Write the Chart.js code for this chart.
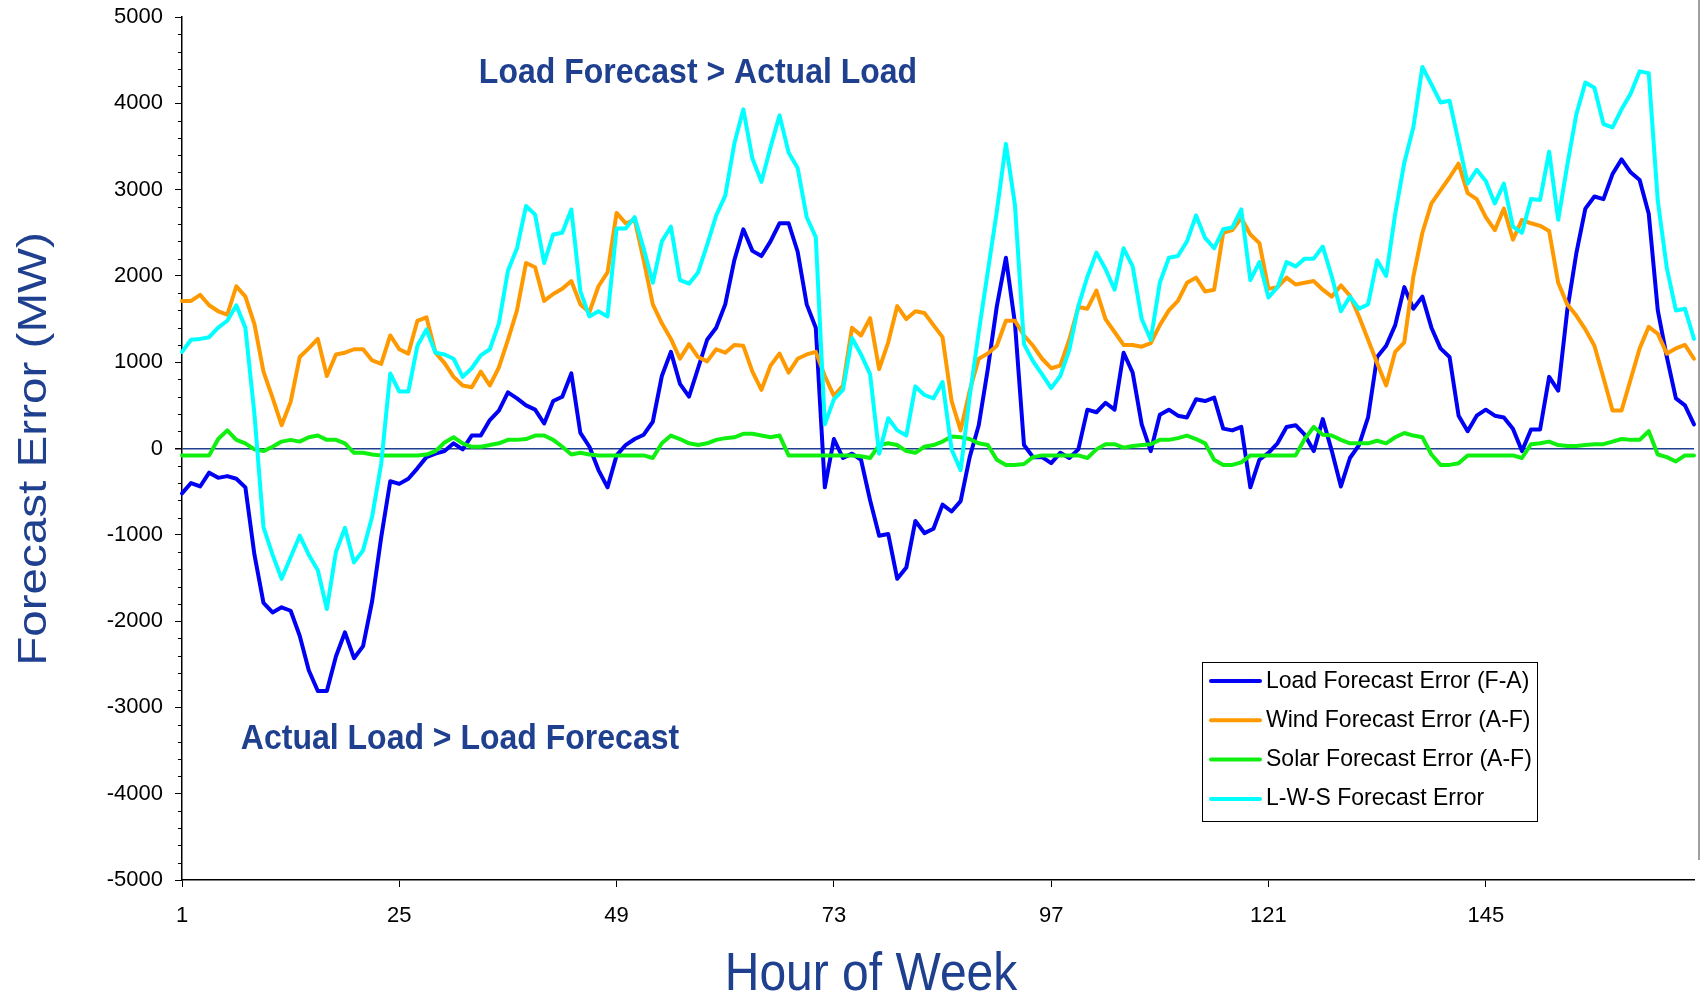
<!DOCTYPE html>
<html>
<head>
<meta charset="utf-8">
<title>Forecast Error by Hour of Week</title>
<script src="https://cdn.jsdelivr.net/npm/chart.js@4.4.1/dist/chart.umd.min.js"></script>
<style>
  html, body { margin: 0; padding: 0; background: #fff; }
  #wrap { width: 1704px; height: 1000px; }
</style>
</head>
<body>
<div id="wrap"><canvas id="chart" width="1704" height="1000"></canvas></div>
<script>
// hours of the week (categories)
var hours = [];
for (var h = 1; h <= 168; h++) hours.push(h);
var hourTicks = [1, 25, 49, 73, 97, 121, 145];
var valueTicks = [-5000, -4000, -3000, -2000, -1000, 0, 1000, 2000, 3000, 4000, 5000];

var loadError = [
  -520, -400, -440, -280, -340, -320, -350, -450, -1230, -1790, -1900, -1840,
  -1880, -2170, -2570, -2810, -2810, -2410, -2130, -2430, -2290, -1770, -1030, -380,
  -410, -350, -230, -100, -60, -30, 60, -10, 150, 150, 330, 440,
  650, 580, 500, 450, 290, 550, 600, 870, 180, 20, -250, -450,
  -80, 40, 110, 160, 310, 840, 1120, 750, 600, 930, 1260, 1400,
  1670, 2180, 2540, 2290, 2230, 2400, 2610, 2610, 2280, 1670, 1400, -450,
  110, -110, -60, -130, -600, -1010, -990, -1510, -1380, -840, -980, -930,
  -650, -730, -610, -100, 270, 920, 1650, 2210, 1450, 40, -100, -100,
  -170, -50, -110, -10, 450, 420, 530, 450, 1110, 880, 280, -30,
  390, 450, 380, 360, 570, 550, 590, 230, 210, 250, -450, -130,
  -50, 60, 250, 270, 160, -30, 340, -30, -440, -110, 40, 360,
  1060, 1190, 1430, 1870, 1620, 1760, 1400, 1160, 1060, 380, 200, 380,
  450, 380, 360, 230, -30, 220, 220, 830, 670, 1600, 2260, 2780,
  2920, 2890, 3180, 3350, 3200, 3110, 2720, 1600, 1060, 580, 500, 280
];

var windError = [
  1710, 1710, 1780, 1660, 1590, 1550, 1880, 1760, 1440, 890, 590, 270,
  540, 1060, 1160, 1270, 840, 1090, 1110, 1150, 1150, 1020, 980, 1310,
  1150, 1100, 1480, 1520, 1110, 990, 830, 730, 710, 890, 730, 940,
  1260, 1600, 2150, 2100, 1710, 1790, 1850, 1940, 1670, 1580, 1880, 2040,
  2730, 2610, 2650, 2180, 1670, 1450, 1270, 1040, 1210, 1060, 1010, 1150,
  1110, 1200, 1190, 890, 680, 960, 1100, 880, 1040, 1090, 1120, 840,
  610, 730, 1400, 1310, 1510, 920, 1230, 1650, 1500, 1590, 1570, 1430,
  1290, 550, 210, 670, 1040, 1100, 1190, 1480, 1480, 1310, 1190, 1040,
  930, 960, 1260, 1640, 1620, 1830, 1500, 1350, 1200, 1200, 1180, 1220,
  1430, 1600, 1710, 1920, 1980, 1820, 1840, 2500, 2530, 2670, 2480, 2380,
  1850, 1870, 1980, 1900, 1920, 1940, 1840, 1760, 1890, 1770, 1530, 1260,
  990, 730, 1120, 1230, 1990, 2500, 2840, 2990, 3140, 3300, 2960, 2890,
  2680, 2530, 2780, 2420, 2650, 2610, 2580, 2520, 1920, 1670, 1540, 1380,
  1190, 820, 440, 440, 800, 1160, 1410, 1330, 1100, 1160, 1200, 1040
];

var solarError = [
  -80, -80, -80, -80, 110, 210, 100, 60, -10, -30, 20, 80,
  100, 80, 130, 150, 100, 100, 60, -50, -50, -70, -80, -80,
  -80, -80, -80, -70, -30, 70, 130, 60, 20, 20, 40, 60,
  100, 100, 110, 150, 150, 100, 20, -70, -50, -70, -80, -80,
  -80, -80, -80, -80, -110, 60, 150, 110, 60, 40, 60, 100,
  120, 130, 170, 170, 150, 130, 150, -80, -80, -80, -80, -80,
  -80, -80, -80, -90, -110, 40, 60, 40, -30, -50, 20, 40,
  80, 140, 130, 110, 60, 40, -130, -190, -190, -180, -100, -80,
  -80, -80, -80, -80, -110, -10, 50, 50, 10, 30, 40, 50,
  100, 100, 120, 150, 110, 60, -130, -190, -190, -160, -80, -80,
  -80, -80, -80, -80, 110, 250, 160, 150, 100, 60, 60, 60,
  90, 60, 130, 180, 150, 130, -70, -190, -190, -170, -80, -80,
  -80, -80, -80, -80, -110, 50, 60, 80, 40, 30, 30, 40,
  50, 50, 80, 110, 100, 100, 200, -70, -100, -150, -80, -80
];

var lwsError = [
  1120, 1260, 1270, 1290, 1400, 1480, 1660, 1400, 400, -910, -1230, -1510,
  -1260, -1010, -1230, -1410, -1860, -1200, -920, -1320, -1180, -790, -180, 870,
  660, 660, 1190, 1380, 1110, 1090, 1040, 830, 930, 1080, 1150, 1450,
  2060, 2320, 2810, 2710, 2150, 2480, 2500, 2770, 1820, 1530, 1590, 1530,
  2550, 2550, 2680, 2310, 1920, 2400, 2570, 1950, 1910, 2040, 2360, 2700,
  2930, 3530, 3930, 3360, 3090, 3490, 3860, 3430, 3250, 2680, 2450, 280,
  570, 680, 1280, 1090, 860, -60, 350, 210, 150, 720, 620, 580,
  770, -10, -250, 600, 1350, 2050, 2750, 3530, 2820, 1210, 1010, 860,
  700, 840, 1140, 1650, 1990, 2270, 2080, 1840, 2320, 2110, 1500, 1260,
  1920, 2210, 2230, 2400, 2700, 2440, 2320, 2540, 2560, 2770, 1950, 2160,
  1750, 1870, 2160, 2110, 2200, 2200, 2340, 1990, 1590, 1760, 1620, 1670,
  2180, 2000, 2720, 3310, 3720, 4420, 4220, 4010, 4030, 3550, 3070, 3230,
  3100, 2840, 3070, 2570, 2500, 2890, 2880, 3440, 2650, 3280, 3870, 4240,
  4180, 3760, 3720, 3930, 4110, 4370, 4350, 2870, 2090, 1600, 1620, 1270
];

var seriesNames = [
  'Load Forecast Error (F-A)',
  'Wind Forecast Error (A-F)',
  'Solar Forecast Error (A-F)',
  'L-W-S Forecast Error'
];
var seriesColors = ['#0000F5', '#FF9900', '#10F010', '#00FFFF'];

var NAVY = '#1F3F8F';
var FONT = "'Liberation Sans', Arial, sans-serif";

Chart.defaults.font.family = FONT;
Chart.defaults.color = '#000';

function makeSeries(i, values) {
  return {
    label: seriesNames[i],
    data: values.map(function (v, k) { return { x: hours[k], y: v }; }),
    borderColor: seriesColors[i],
    backgroundColor: seriesColors[i],
    borderWidth: 4,
    pointRadius: 0,
    pointHoverRadius: 0,
    tension: 0,
    fill: false,
    borderJoinStyle: 'round',
    borderCapStyle: 'round',
    clip: 6,
    order: 4 - i   // later series drawn on top, like the original
  };
}

function drawText(ctx, text, x, y, font, color, sx, sy, angle, align) {
  ctx.save();
  ctx.translate(x, y);
  if (angle) ctx.rotate(angle);
  ctx.scale(sx, sy);
  ctx.font = font;
  ctx.fillStyle = color;
  ctx.textAlign = align || 'center';
  ctx.textBaseline = 'middle';
  ctx.fillText(text, 0, 0);
  ctx.restore();
}

// titles, notes, minor ticks and the boxed legend
var extrasPlugin = {
  id: 'extras',
  afterDraw: function (chart) {
    var ctx = chart.ctx;
    var area = chart.chartArea;
    var yScale = chart.scales.y;

    ctx.save();
    ctx.strokeStyle = '#000';
    ctx.lineWidth = 1;
    for (var v = -5000; v <= 5000; v += 200) {
      if (v % 1000 === 0) continue;
      var py = Math.round(yScale.getPixelForValue(v)) + 0.5;
      ctx.beginPath();
      ctx.moveTo(area.left - 4, py);
      ctx.lineTo(area.left, py);
      ctx.stroke();
    }

    // slide edge on the right
    ctx.strokeStyle = '#a0a0a0';
    ctx.lineWidth = 2;
    ctx.beginPath();
    ctx.moveTo(1699, 0);
    ctx.lineTo(1699, 860);
    ctx.stroke();
    ctx.restore();

    drawText(ctx, 'Forecast Error (MW)', 35, 449, '40px ' + FONT, NAVY, 1.19, 1, -Math.PI / 2);
    drawText(ctx, 'Hour of Week', 871, 975, '48px ' + FONT, NAVY, 1, 1.1);
    drawText(ctx, 'Load Forecast > Actual Load', 698, 73, 'bold 32px ' + FONT, NAVY, 1, 1.08);
    drawText(ctx, 'Actual Load > Load Forecast', 460, 739, 'bold 32px ' + FONT, NAVY, 1, 1.08);

    // legend box
    ctx.save();
    ctx.fillStyle = '#fff';
    ctx.fillRect(1202, 662, 335, 160);
    ctx.strokeStyle = '#000';
    ctx.lineWidth = 1;
    ctx.strokeRect(1202.5, 662.5, 335, 159);
    chart.data.datasets.forEach(function (ds, i) {
      var ry = 681 + i * 39.3;
      ctx.strokeStyle = ds.borderColor;
      ctx.lineWidth = 4;
      ctx.lineCap = 'round';
      ctx.beginPath();
      ctx.moveTo(1211, ry);
      ctx.lineTo(1260, ry);
      ctx.stroke();
      drawText(ctx, ds.label, 1266, ry, '23px ' + FONT, '#000', 1, 1.03, 0, 'left');
    });
    ctx.restore();
  }
};

var ctx = document.getElementById('chart').getContext('2d');
var chart = new Chart(ctx, {
  type: 'line',
  data: {
    datasets: [
      makeSeries(0, loadError),
      makeSeries(1, windError),
      makeSeries(2, solarError),
      makeSeries(3, lwsError)
    ]
  },
  options: {
    responsive: false,
    animation: false,
    devicePixelRatio: 1,
    layout: { padding: { top: 17, right: 10, bottom: 0, left: 0 } },
    plugins: {
      legend: { display: false },
      tooltip: { enabled: false },
      title: { display: false }
    },
    scales: {
      x: {
        type: 'linear',
        min: 1,
        max: 168,
        afterBuildTicks: function (scale) {
          scale.ticks = hourTicks.map(function (v) { return { value: v }; });
        },
        afterFit: function (scale) {
          scale.height = 120;
          scale.paddingLeft = 0;
          scale.paddingRight = 0;
        },
        grid: { color: 'transparent', tickColor: '#000', tickLength: 7, lineWidth: 1 },
        border: { display: true, color: '#000', width: 1.5 },
        ticks: {
          autoSkip: false,
          maxRotation: 0,
          padding: 16,
          color: '#000',
          font: { size: 22 },
          callback: function (v) { return String(v); }
        }
      },
      y: {
        min: -5000,
        max: 5000,
        afterBuildTicks: function (scale) {
          scale.ticks = valueTicks.map(function (v) { return { value: v }; });
        },
        afterFit: function (scale) {
          scale.width = 182;
          scale.paddingTop = 0;
          scale.paddingBottom = 0;
        },
        grid: {
          color: function (c) { return c.tick && c.tick.value === 0 ? NAVY : 'transparent'; },
          lineWidth: function (c) { return c.tick && c.tick.value === 0 ? 1.5 : 1; },
          tickColor: '#000',
          tickLength: 7
        },
        border: { display: true, color: '#000', width: 1.5 },
        ticks: {
          autoSkip: false,
          padding: 12,
          color: '#000',
          font: { size: 22 },
          callback: function (v) { return String(v); }
        }
      }
    }
  },
  plugins: [extrasPlugin]
});
</script>
</body>
</html>
